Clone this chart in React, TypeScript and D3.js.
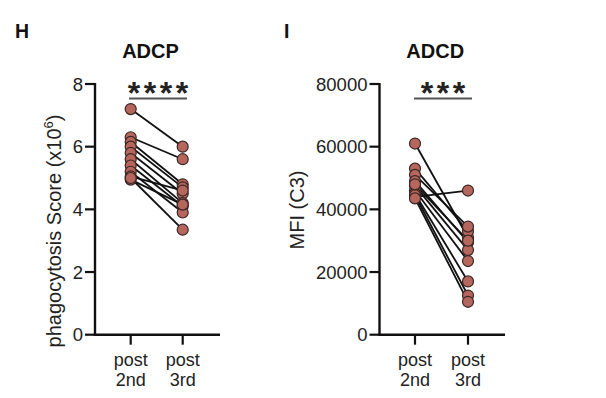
import React from "react";
import * as d3 from "d3";

const categories = ["post 2nd", "post 3rd"];
const adcpPost2nd = [7.2, 6.3, 6.15, 6.0, 5.8, 5.6, 5.4, 5.2, 5.05, 4.95, 5.0];
const adcpPost3rd = [6.0, 5.6, 4.8, 4.7, 4.5, 4.2, 4.1, 3.9, 4.6, 4.15, 3.35];
const adcdPost2nd = [61000, 53000, 51000, 49000, 47500, 46000, 44000, 45000, 44500, 43500, 48000];
const adcdPost3rd = [31000, 33000, 34500, 29500, 27000, 23500, 46000, 17000, 12500, 10500, 30000];
const adcpTicks = [0, 2, 4, 6, 8];
const adcdTicks = [0, 20000, 40000, 60000, 80000];

const FONT = "'Liberation Sans', Arial, Helvetica, sans-serif";
const FILL = "#b6675d";
const STROKE = "#3a2624";

type PanelProps = {
  letter: string;
  letterX: number;
  title: string;
  axisX: number;
  axisEnd: number;
  catX: [number, number];
  yMax: number;
  ticks: number[];
  a: number[];
  b: number[];
  stars: string;
  sigX: [number, number];
  labelX: number;
  labelY: number;
  label: React.ReactNode;
};

function Panel(p: PanelProps) {
  const top = 84;
  const bottom = 334.7;
  const y = d3.scaleLinear().domain([0, p.yMax]).range([bottom, top]);
  const x = d3.scalePoint<string>().domain(categories).range(p.catX).padding(0);
  const titleX = (p.axisX + p.axisEnd) / 2 - 7;
  const sigMid = (p.sigX[0] + p.sigX[1]) / 2;
  const spacing = 3.5;
  return (
    <g>
      <text x={p.letterX} y={38} fontFamily={FONT} fontWeight="bold" fontSize={19.5} fill="#111">{p.letter}</text>
      <text x={titleX} y={58} textAnchor="middle" fontFamily={FONT} fontWeight="bold" fontSize={20} fill="#111">{p.title}</text>
      {/* y axis */}
      <line x1={p.axisX} x2={p.axisX} y1={top - 1} y2={bottom + 1.2} stroke="#111" strokeWidth={2.4} />
      {p.ticks.map((t) => (
        <g key={t}>
          <line x1={p.axisX - 10} x2={p.axisX} y1={y(t)} y2={y(t)} stroke="#111" strokeWidth={2.2} />
          <text x={p.axisX - 12} y={y(t)} dy="0.36em" textAnchor="end" fontFamily={FONT} fontSize={18.5} fill="#222">{t}</text>
        </g>
      ))}
      {/* x axis */}
      <line x1={p.axisX - 1.2} x2={p.axisEnd} y1={bottom} y2={bottom} stroke="#111" strokeWidth={2.4} />
      {categories.map((c) => {
        const [l1, l2] = c.split(" ");
        return (
          <g key={c}>
            <line x1={x(c)!} x2={x(c)!} y1={bottom} y2={bottom + 10} stroke="#111" strokeWidth={2.2} />
            <text x={x(c)!} y={365.5} textAnchor="middle" fontFamily={FONT} fontSize={18} fill="#222">{l1}</text>
            <text x={x(c)!} y={386} textAnchor="middle" fontFamily={FONT} fontSize={18} fill="#222">{l2}</text>
          </g>
        );
      })}
      {/* y label */}
      <text transform={`translate(${p.labelX},${p.labelY}) rotate(-90)`} textAnchor="middle" fontFamily={FONT} fontSize={20} fill="#222">{p.label}</text>
      {/* significance */}
      <line x1={p.sigX[0]} x2={p.sigX[1]} y1={98.5} y2={98.5} stroke="#555" strokeWidth={2} />
      <text x={sigMid + spacing / 2} y={103.5} textAnchor="middle" letterSpacing={spacing} fontFamily={FONT} fontWeight="bold" fontSize={32} fill="#222">{p.stars}</text>
      {/* paired lines */}
      {p.a.map((v, i) => (
        <line key={"l" + i} x1={x(categories[0])!} y1={y(v)} x2={x(categories[1])!} y2={y(p.b[i])} stroke="#111" strokeWidth={1.8} />
      ))}
      {p.a.map((v, i) => (
        <circle key={"a" + i} cx={x(categories[0])!} cy={y(v)} r={5.5} fill={FILL} stroke={STROKE} strokeWidth={1.2} />
      ))}
      {p.b.map((v, i) => (
        <circle key={"b" + i} cx={x(categories[1])!} cy={y(v)} r={5.5} fill={FILL} stroke={STROKE} strokeWidth={1.2} />
      ))}
    </g>
  );
}

export default function App() {
  return (
    <svg width={606} height={398} style={{ position: "absolute", left: 0, top: 0, background: "#fff" }}>
      <rect width={606} height={398} fill="#fff" />
      <Panel
        letter="H"
        letterX={15}
        title="ADCP"
        axisX={95}
        axisEnd={220}
        catX={[130.7, 182.7]}
        yMax={8}
        ticks={adcpTicks}
        a={adcpPost2nd}
        b={adcpPost3rd}
        stars="****"
        sigX={[129, 187]}
        labelX={61}
        labelY={231}
        label={<>phagocytosis Score (x10<tspan dy={-8} fontSize={13}>6</tspan><tspan dy={8}>)</tspan></>}
      />
      <Panel
        letter="I"
        letterX={284}
        title="ADCD"
        axisX={379.5}
        axisEnd={505}
        catX={[415, 468]}
        yMax={80000}
        ticks={adcdTicks}
        a={adcdPost2nd}
        b={adcdPost3rd}
        stars="***"
        sigX={[414, 472]}
        labelX={304}
        labelY={210}
        label="MFI (C3)"
      />
    </svg>
  );
}
